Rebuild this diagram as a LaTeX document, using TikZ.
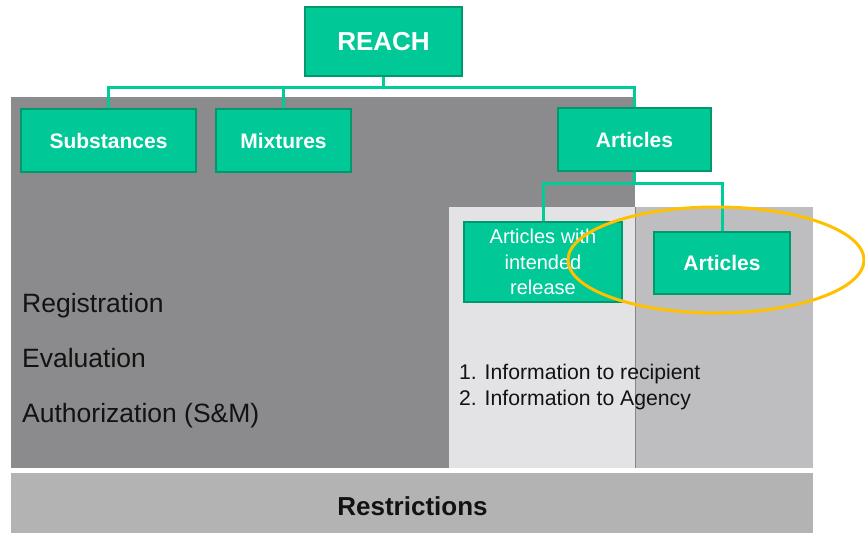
\documentclass[tikz,border=0pt]{standalone}
\usepackage{fontspec}
\setmainfont{Liberation Sans}
\definecolor{boxfill}{HTML}{00C997}
\definecolor{boxedge}{HTML}{00996E}
\definecolor{linkgreen}{HTML}{00CC99}
\definecolor{darkpanel}{HTML}{8B8B8D}
\definecolor{lightpanel}{HTML}{E3E3E5}
\definecolor{midpanel}{HTML}{BEBEC0}
\definecolor{barpanel}{HTML}{B3B3B3}
\definecolor{divider}{HTML}{858585}
\definecolor{ringgold}{HTML}{FFC000}
\tikzset{
  greenbox/.style={rectangle, draw=boxedge, fill=boxfill, line width=1.8pt,
    text=white, inner sep=0pt, align=center},
  boldlabel/.style={font=\fontsize{21}{25}\selectfont\bfseries},
  link/.style={draw=linkgreen, line width=3pt},
  sidetext/.style={anchor=base west, inner sep=0pt, text=black!93,
    font=\fontsize{26.5}{30}\selectfont},
  listtext/.style={anchor=base west, inner sep=0pt, text=black!93,
    font=\fontsize{21.2}{25}\selectfont},
}
\begin{document}
\begin{tikzpicture}[x=1pt, y=-1pt]
\useasboundingbox (0,0) rectangle (865,533);

% background panels
\fill[darkpanel] (11,97) rectangle (635,468);
\fill[lightpanel] (449,207) rectangle (635,468);
\fill[midpanel] (635,207) rectangle (813,468);
\draw[divider, line width=1pt] (635,207) -- (635,468);
\fill[barpanel] (11,473) rectangle (813,533);

% boxes
\node[greenbox, minimum width=157, minimum height=69,
  font=\fontsize{26}{30}\selectfont\bfseries] (reach) at (383.5,41.5) {REACH};
\node[greenbox, boldlabel, minimum width=175, minimum height=63] (subst) at (108.5,140.5) {Substances};
\node[greenbox, boldlabel, minimum width=135, minimum height=63] (mix) at (283.5,140.5) {Mixtures};
\node[greenbox, boldlabel, minimum width=153, minimum height=63] (arts) at (634.5,139.5) {Articles};
\node[greenbox, minimum width=158, minimum height=80,
  font=\fontsize{20}{25.5}\selectfont] (release) at (543,262) {Articles with\\intended\\release};
\node[greenbox, boldlabel, minimum width=136, minimum height=62] (artsb) at (722,263) {Articles};

% tree connectors
\coordinate (bus) at (0,87);
\coordinate (subbus) at (0,183);
\draw[link] (reach.south) -- (reach.south |- bus);
\draw[link] (subst.north) |- (arts.north |- bus) -- (arts.north);
\draw[link] (mix.north) -- (mix.north |- bus);
\draw[link] (arts.south) -- (arts.south |- subbus);
\draw[link] (release.north) |- (artsb.north |- subbus) -- (artsb.north);

% text on the panels
\node[sidetext] (reg) at (22,312) {Registration};
\node[sidetext] (eva) at (22,367) {Evaluation};
\node[sidetext] (aut) at (22,422) {Authorization (S\&M)};
\node[listtext] (info1) at (459,379) {1. Information to recipient};
\node[listtext] (info2) at (459,405) {2. Information to Agency};
\node[anchor=base, inner sep=0pt, text=black!93,
  font=\fontsize{26}{30}\selectfont\bfseries] (restr) at (412.5,515) {Restrictions};

% highlight ring
\draw[ringgold, line width=3pt] (716,260) ellipse [x radius=148, y radius=53];
\end{tikzpicture}
\end{document}
